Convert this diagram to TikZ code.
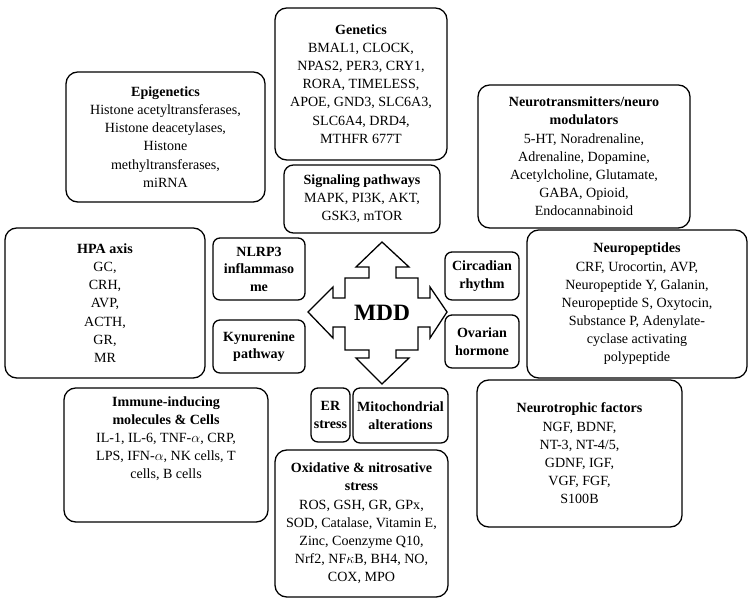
\documentclass[tikz,border=0pt]{standalone}
\usepackage{fontspec}
\setmainfont{Liberation Serif}
\usetikzlibrary{positioning}
\tikzset{
  box/.style={draw, line width=1.1pt, rounded corners=10pt, align=center,
    inner sep=1pt, font=\fontsize{12}{15.5}\selectfont},
  smallbox/.style={box, rounded corners=6pt, font=\fontsize{12}{15}\selectfont\bfseries}
}
\begin{document}
\begin{tikzpicture}[x=0.03cm, y=-0.03cm]
  \useasboundingbox (0,0) rectangle (751,601);
  % outer boxes
  \node[box, minimum width=172*0.03cm, minimum height=152*0.03cm] (genetics) at (361,84)
    {\textbf{Genetics}\\BMAL1, CLOCK,\\NPAS2, PER3, CRY1,\\RORA, TIMELESS,\\APOE, GND3, SLC6A3,\\SLC6A4, DRD4,\\MTHFR 677T};
  \node[box, minimum width=199*0.03cm, minimum height=130*0.03cm] (epigen) at (165.5,137)
    {\textbf{Epigenetics}\\Histone acetyltransferases,\\Histone deacetylases,\\Histone\\methyltransferases,\\miRNA};
  \node[box, minimum width=212*0.03cm, minimum height=143*0.03cm] (neurotr) at (584,156.5)
    {\textbf{Neurotransmitters/neuro}\\\textbf{modulators}\\5-HT, Noradrenaline,\\Adrenaline, Dopamine,\\Acetylcholine, Glutamate,\\GABA, Opioid,\\Endocannabinoid};
  \node[box, minimum width=200*0.03cm, minimum height=150*0.03cm] (hpa) at (105,303)
    {\textbf{HPA axis}\\GC,\\CRH,\\AVP,\\ACTH,\\GR,\\MR};
  \node[box, minimum width=220*0.03cm, minimum height=148*0.03cm] (neuropep) at (637,304)
    {\textbf{Neuropeptides}\\CRF, Urocortin, AVP,\\Neuropeptide Y, Galanin,\\Neuropeptide S, Oxytocin,\\Substance P, Adenylate-\\cyclase activating\\polypeptide};
  \node[box, minimum width=204*0.03cm, minimum height=134*0.03cm] (immune) at (166,455)
    {\textbf{Immune-inducing}\\\textbf{molecules \& Cells}\\IL-1, IL-6, TNF-$\alpha$, CRP,\\LPS, IFN-$\alpha$, NK cells, T\\cells, B cells\\[14pt]};
  \node[box, minimum width=205*0.03cm, minimum height=147*0.03cm] (neurotroph) at (579.5,453.5)
    {\textbf{Neurotrophic factors}\\NGF, BDNF,\\NT-3, NT-4/5,\\GDNF, IGF,\\VGF, FGF,\\S100B};
  \node[box, minimum width=173*0.03cm, minimum height=147*0.03cm] (oxid) at (361.5,523.5)
    {\textbf{Oxidative \& nitrosative}\\\textbf{stress}\\ROS, GSH, GR, GPx,\\SOD, Catalase, Vitamin E,\\Zinc, Coenzyme Q10,\\Nrf2, NF$\kappa$B, BH4, NO,\\COX, MPO};
  % inner boxes
  \node[box, rounded corners=8pt, minimum width=156*0.03cm, minimum height=68*0.03cm] (signal) at (362,199)
    {\textbf{Signaling pathways}\\MAPK, PI3K, AKT,\\GSK3, mTOR};
  \node[smallbox, minimum width=92*0.03cm, minimum height=62*0.03cm] (nlrp3) at (259,269)
    {NLRP3\\inflammaso\\me};
  \node[smallbox, minimum width=92*0.03cm, minimum height=53*0.03cm] (kynu) at (259,346.5)
    {Kynurenine\\pathway};
  \node[smallbox, minimum width=74*0.03cm, minimum height=48*0.03cm] (circ) at (482,276)
    {Circadian\\rhythm};
  \node[smallbox, minimum width=74*0.03cm, minimum height=53*0.03cm] (ovar) at (482,341.5)
    {Ovarian\\hormone};
  \node[smallbox, minimum width=39*0.03cm, minimum height=54*0.03cm] (er) at (330.5,415)
    {ER\\stress};
  \node[smallbox, minimum width=95*0.03cm, minimum height=55*0.03cm] (mito) at (400.5,415.5)
    {Mitochondrial\\alterations};
  % central cross arrow
  \draw[line width=1.1pt, line join=miter]
    (382,242) -- (409,267) -- (396,267) -- (396,278) -- (418,278) -- (418,298)
    -- (430,298) -- (430,287) -- (447,312) -- (430,338) -- (430,327) -- (418,327)
    -- (418,350) -- (396,350) -- (396,358) -- (409,358) -- (382,384) -- (356,358)
    -- (369,358) -- (369,350) -- (345,350) -- (345,327) -- (333,327) -- (333,338)
    -- (308,312) -- (333,287) -- (333,298) -- (345,298) -- (345,278) -- (369,278)
    -- (369,267) -- (356,267) -- cycle;
  \node[font=\fontsize{20}{22}\selectfont\bfseries] (mdd) at (382,313) {MDD};
\end{tikzpicture}
\end{document}
